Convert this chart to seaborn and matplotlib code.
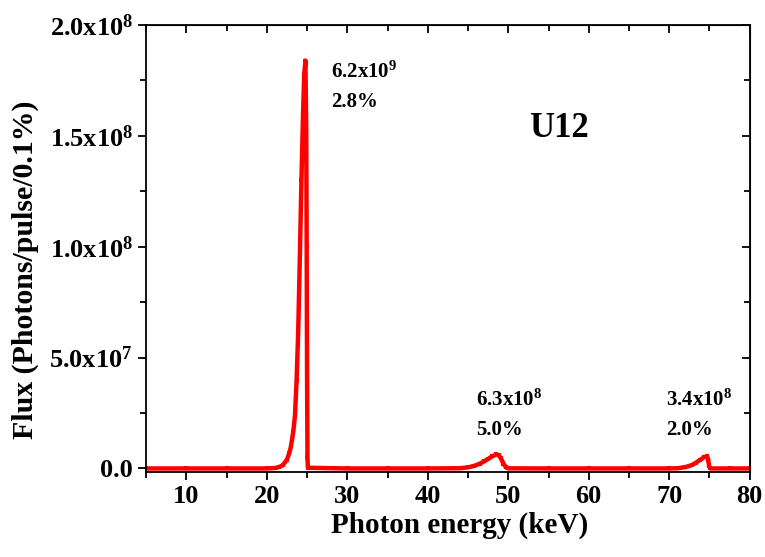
from matplotlib import pyplot as plt
from matplotlib.ticker import MultipleLocator, FuncFormatter
import numpy as np
import pandas as pd
import seaborn as sns

# spectrum (keV, photons/pulse/0.1%)
energy = [5.0, 10.0, 15.0, 20.0, 21.0, 21.5, 22.0, 22.5, 22.8, 23.0, 23.3, 23.5,
          23.7, 23.9, 24.1, 24.3, 24.5, 24.65, 24.8, 24.9, 24.95, 25.0, 25.05,
          25.1, 30.0, 35.0, 40.0, 44.0, 45.0, 45.8, 46.5, 47.0, 47.5, 48.0,
          48.5, 48.8, 49.1, 49.4, 49.7, 50.0, 55.0, 60.0, 65.0, 70.0, 71.0,
          72.0, 72.8, 73.3, 73.8, 74.3, 74.7, 74.85, 74.95, 75.1, 77.5, 80.0]
flux = [0.0, 0.0, 0.0, 0.0, 0.2e6, 0.6e6, 1.5e6, 4e6, 7e6, 10e6, 17e6, 24e6,
        40e6, 62e6, 95e6, 130e6, 160e6, 178e6, 184e6, 150e6, 100e6, 40e6, 5e6,
        0.3e6, 0.0, 0.0, 0.0, 0.1e6, 0.5e6, 1.2e6, 2.2e6, 3.2e6, 4.3e6, 5.5e6,
        6.3e6, 6.0e6, 4.5e6, 2.2e6, 0.5e6, 0.05e6, 0.0, 0.0, 0.0, 0.0, 0.1e6,
        0.6e6, 1.5e6, 2.5e6, 3.8e6, 5.0e6, 5.6e6, 4.0e6, 1.0e6, 0.0, 0.0, 0.0]

peak_labels = [("6.2x10$^{9}$", "2.8%", 28.0, 1.74e8),
               ("6.3x10$^{8}$", "5.0%", 46.0, 2.6e7),
               ("3.4x10$^{8}$", "2.0%", 69.6, 2.6e7)]

df = pd.DataFrame({"Energy": energy, "Flux": flux})

sns.set_style("ticks")
plt.rcParams["font.family"] = ["Liberation Serif", "DejaVu Serif"]
plt.rcParams["font.weight"] = "bold"
plt.rcParams["text.color"] = "black"
plt.rcParams["axes.labelcolor"] = "black"
plt.rcParams["axes.edgecolor"] = "black"
plt.rcParams["xtick.color"] = "black"
plt.rcParams["ytick.color"] = "black"
plt.rcParams["mathtext.fontset"] = "custom"
plt.rcParams["mathtext.rm"] = "Liberation Serif:bold"
plt.rcParams["mathtext.it"] = "Liberation Serif:bold"
plt.rcParams["mathtext.bf"] = "Liberation Serif:bold"

fig = plt.figure(figsize=(7.65, 5.57), dpi=100)
ax = fig.add_axes([0.191, 0.153, 0.789, 0.802])

sns.lineplot(x="Energy", y="Flux", data=df, ax=ax, color="#ff0000", lw=3.2,
             marker="s", markersize=3.5, markeredgewidth=0, estimator=None)

ax.set_xlim(5, 80)
ax.set_ylim(-1.5e6, 2.0e8)
ax.xaxis.set_major_locator(MultipleLocator(10))
ax.xaxis.set_minor_locator(MultipleLocator(5))
ax.yaxis.set_major_locator(MultipleLocator(5e7))
ax.yaxis.set_minor_locator(MultipleLocator(2.5e7))

def sci(v, pos):
    if v < 1:
        return "0.0"
    e = int(np.floor(np.log10(v)))
    return "%.1fx10$^{%d}$" % (v / 10 ** e, e)

ax.yaxis.set_major_formatter(FuncFormatter(sci))

for side in ["top", "right", "left", "bottom"]:
    ax.spines[side].set_visible(True)
    ax.spines[side].set_linewidth(1.3)
ax.tick_params(which="both", direction="out", width=1.3, labelsize=19,
               top=False, right=False)
ax.tick_params(which="major", length=6)
ax.tick_params(which="minor", length=4)

# inward ticks on top and right, as in the original
sec_x = ax.secondary_xaxis("top")
sec_x.xaxis.set_major_locator(MultipleLocator(10))
sec_x.xaxis.set_minor_locator(MultipleLocator(5))
sec_x.tick_params(which="both", direction="in", width=1.3, labeltop=False)
sec_x.tick_params(which="major", length=6)
sec_x.tick_params(which="minor", length=4)
sec_y = ax.secondary_yaxis("right")
sec_y.yaxis.set_major_locator(MultipleLocator(5e7))
sec_y.yaxis.set_minor_locator(MultipleLocator(2.5e7))
sec_y.tick_params(which="both", direction="in", width=1.3, labelright=False)
sec_y.tick_params(which="major", length=6)
sec_y.tick_params(which="minor", length=4)

ax.set_xlabel("Photon energy (keV)", fontsize=21, fontweight="bold")
ax.set_ylabel("Flux (Photons/pulse/0.1%)", fontsize=21.5, fontweight="bold")
ax.xaxis.set_label_coords(0.52, -0.09)
ax.yaxis.set_label_coords(-0.178, 0.452)

for top, bottom, xe, yf in peak_labels:
    ax.text(xe, yf, top, fontsize=15, fontweight="bold", ha="left", va="bottom")
    ax.text(xe, yf - 1.3e7, bottom, fontsize=15, fontweight="bold", ha="left", va="bottom")

ax.text(52.6, 1.46e8, "U12", fontsize=25, fontweight="bold", ha="left", va="bottom")

fig.savefig("out.png", dpi=100)
